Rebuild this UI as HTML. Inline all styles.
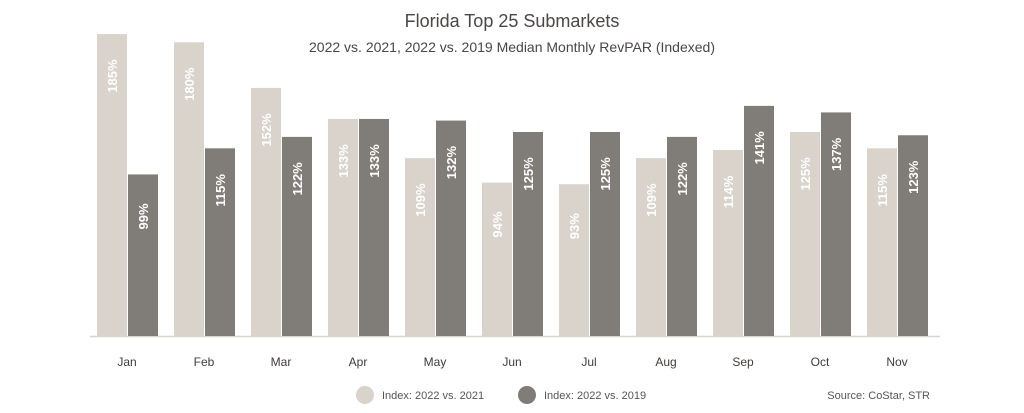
<!DOCTYPE html>
<html><head><style>
body{margin:0;background:#fff;}
svg text{font-family:"Liberation Sans",sans-serif;}
</style></head><body>
<svg width="1024" height="408" xmlns="http://www.w3.org/2000/svg">
<rect width="1024" height="408" fill="#fff"/>
<text x="512" y="27" text-anchor="middle" font-size="18" fill="#4a4745">Florida Top 25 Submarkets</text>
<text x="512" y="52" text-anchor="middle" font-size="14" fill="#4a4745">2022 vs. 2021, 2022 vs. 2019 Median Monthly RevPAR (Indexed)</text>
<line x1="90" y1="336.5" x2="940" y2="336.5" stroke="#d8d4cf" stroke-width="1.5"/>
<g id="bars"></g>
<g font-size="12" fill="#3f3c3a" text-anchor="middle" id="months"></g>
<circle cx="365" cy="395" r="9" fill="#d9d3cc"/>
<text x="382" y="399" font-size="11" fill="#555">Index: 2022 vs. 2021</text>
<circle cx="527" cy="395" r="9" fill="#807c77"/>
<text x="544" y="399" font-size="11" fill="#555">Index: 2022 vs. 2019</text>
<text x="930" y="399" text-anchor="end" font-size="11" fill="#555">Source: CoStar, STR</text>
</svg>
<script>
const d=[["Jan",185,99],["Feb",180,115],["Mar",152,122],["Apr",133,133],["May",109,132],["Jun",94,125],["Jul",93,125],["Aug",109,122],["Sep",114,141],["Oct",125,137],["Nov",115,123]];
const ns="http://www.w3.org/2000/svg";const g=document.getElementById("bars");const m=document.getElementById("months");
d.forEach((r,i)=>{const x=97+i*77;
[[r[1],x,"#d9d3cc"],[r[2],x+31,"#807c77"]].forEach(([v,bx,c])=>{
const h=v*1.632;const y=336-h;
const R=document.createElementNS(ns,"rect");R.setAttribute("x",bx);R.setAttribute("y",y);R.setAttribute("width",30);R.setAttribute("height",h);R.setAttribute("fill",c);g.appendChild(R);
const t=document.createElementNS(ns,"text");const cx=bx+15,cy=y+42;t.setAttribute("transform",`translate(${cx},${cy}) rotate(-90)`);t.setAttribute("text-anchor","middle");t.setAttribute("dy","5");t.setAttribute("font-size","13");t.setAttribute("font-weight","bold");t.setAttribute("fill","#fff");t.textContent=v+"%";g.appendChild(t);});
const t=document.createElementNS(ns,"text");t.setAttribute("x",x+30);t.setAttribute("y",366);t.textContent=r[0];m.appendChild(t);});
</script>
</body></html>
